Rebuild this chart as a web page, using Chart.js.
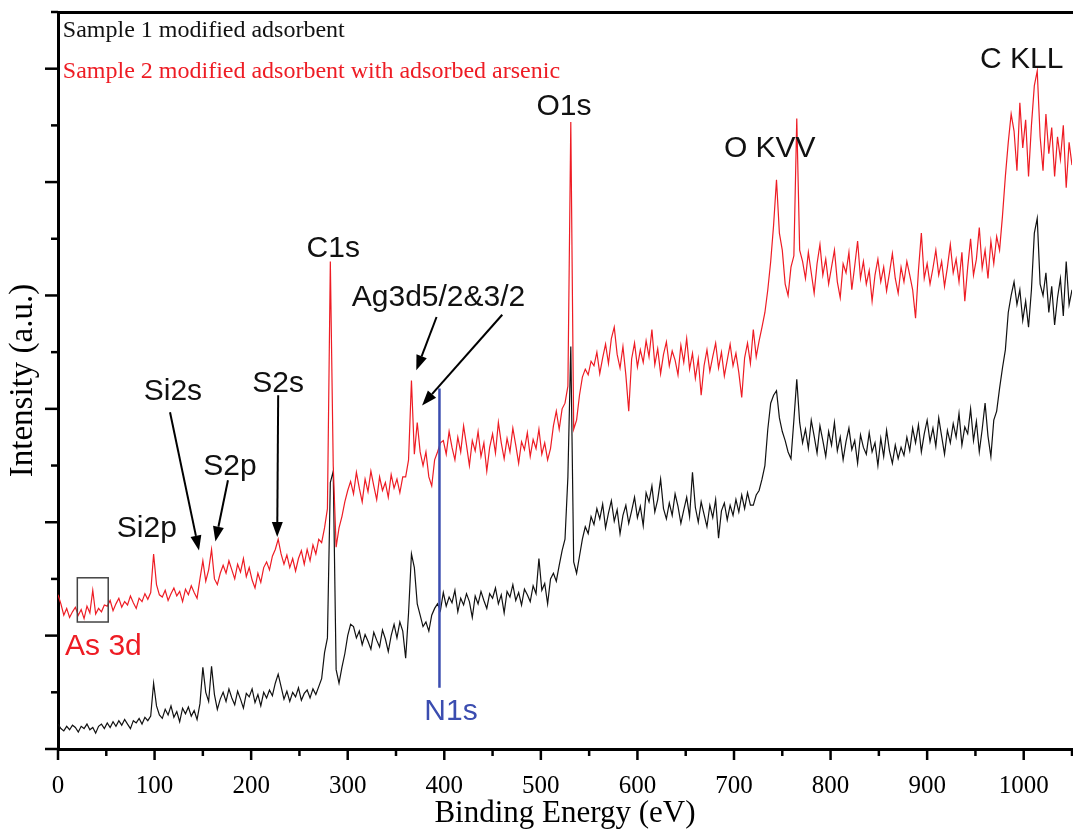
<!DOCTYPE html>
<html><head><meta charset="utf-8">
<script src="https://cdn.jsdelivr.net/npm/chart.js@4.4.1/dist/chart.umd.min.js"></script>
<style>html,body{margin:0;padding:0;background:#fff}canvas{display:block}</style>
</head><body>
<canvas id="c" width="1073" height="832"></canvas>
<script>
// Binding energy grid (eV)
const energies = [
0,3,6,9,12,15,18,21,24,27,
30,33,36,39,42,45,48,51,54,57,
60,63,66,69,72,75,78,81,84,87,
90,93,96,99,102,105,108,111,114,117,
120,123,126,129,132,135,138,141,144,147,
150,153,156,159,162,165,168,171,174,177,
180,183,186,189,192,195,198,201,204,207,
210,213,216,219,222,225,228,231,234,237,
240,243,246,249,252,255,258,261,264,267,
270,273,276,279,282,285,288,291,294,297,
300,303,306,309,312,315,318,321,324,327,
330,333,336,339,342,345,348,351,354,357,
360,363,366,369,372,375,378,381,384,387,
390,393,396,399,402,405,408,411,414,417,
420,423,426,429,432,435,438,441,444,447,
450,453,456,459,462,465,468,471,474,477,
480,483,486,489,492,495,498,501,504,507,
510,513,516,519,522,525,528,531,534,537,
540,543,546,549,552,555,558,561,564,567,
570,573,576,579,582,585,588,591,594,597,
600,603,606,609,612,615,618,621,624,627,
630,633,636,639,642,645,648,651,654,657,
660,663,666,669,672,675,678,681,684,687,
690,693,696,699,702,705,708,711,714,717,
720,723,726,729,732,735,738,741,744,747,
750,753,756,759,762,765,768,771,774,777,
780,783,786,789,792,795,798,801,804,807,
810,813,816,819,822,825,828,831,834,837,
840,843,846,849,852,855,858,861,864,867,
870,873,876,879,882,885,888,891,894,897,
900,903,906,909,912,915,918,921,924,927,
930,933,936,939,942,945,948,951,954,957,
960,963,966,969,972,975,978,981,984,987,
990,993,996,999,1002,1005,1008,1011,1014,1017,
1020,1023,1026,1029,1032,1035,1038,1041,1044,1047,
1050];

// Sample 1 modified adsorbent (a.u.)
const sample1 = [
22,18,16,20,17,21,19,15,20,18,
22,17,19,14,20,22,18,23,19,24,
20,25,21,26,22,18,25,23,27,22,
28,25,29,58,38,30,27,35,30,38,
28,33,24,36,31,37,29,34,26,40,
72,50,42,73,48,35,44,50,42,53,
45,39,51,44,36,49,46,53,41,48,
38,50,45,52,47,58,66,55,44,51,
42,50,46,54,43,49,52,45,53,48,
55,62,85,98,235,245,70,58,72,84,
100,110,108,98,104,92,101,95,88,103,
96,90,105,97,86,100,110,98,112,104,
80,120,172,160,128,118,108,112,104,118,
124,128,122,138,126,134,129,140,121,133,
127,137,130,116,135,128,139,131,124,137,
133,142,128,136,120,139,134,145,131,138,
127,141,136,130,144,137,168,140,146,128,
150,155,148,162,175,185,240,355,165,155,
170,185,196,190,205,198,212,203,216,195,
208,219,201,211,190,206,215,199,210,222,
204,214,197,226,218,232,209,220,238,212,
203,217,206,225,214,199,211,222,205,244,
213,200,218,207,196,215,204,220,186,210,
217,202,215,206,220,209,224,212,226,215,
215,224,228,238,250,282,305,312,316,292,
280,272,262,256,290,326,288,270,282,265,
290,276,261,285,272,258,280,268,288,263,
275,255,271,283,264,272,252,277,266,260,
279,262,270,250,274,258,281,263,252,268,
256,266,259,275,263,283,270,286,262,278,
290,271,283,267,292,276,260,281,270,287,
275,296,268,284,278,300,272,289,262,282,
305,276,258,290,298,318,336,352,385,400,
412,392,405,378,395,372,405,455,468,410,
400,420,385,408,374,398,415,382,430,392,
405];

// Sample 2 modified adsorbent with adsorbed arsenic (a.u.)
const sample2 = [
136,128,118,124,116,121,125,118,123,115,
126,120,140,119,124,121,127,126,131,122,
128,133,125,130,127,135,129,124,133,130,
137,132,138,172,145,136,134,140,131,137,
142,135,139,130,141,136,144,138,133,150,
166,148,158,176,150,145,155,162,155,166,
158,150,163,156,168,152,160,149,142,155,
147,160,165,158,170,176,185,172,163,171,
160,168,157,168,175,163,176,166,180,172,
185,182,195,212,430,250,178,195,205,218,
228,236,225,244,230,218,238,227,245,232,
220,240,228,235,222,242,230,238,226,240,
240,255,325,260,288,262,250,262,240,232,
255,262,270,272,260,280,266,255,275,262,
285,268,250,272,263,280,258,270,245,266,
278,261,288,270,256,274,262,283,268,252,
271,264,279,258,273,265,282,260,270,255,
265,285,298,282,300,305,320,553,282,290,
312,328,335,330,342,338,350,331,345,357,
340,362,372,348,336,355,330,298,344,358,
337,352,341,360,346,370,339,353,331,348,
359,338,351,343,330,356,341,362,335,349,
327,344,312,338,352,333,346,358,336,350,
329,343,357,338,349,332,310,345,358,340,
370,346,360,372,385,405,430,462,502,455,
440,410,400,425,435,556,440,430,415,438,
420,402,428,445,418,432,410,425,440,412,
398,428,420,438,405,426,448,415,430,410,
422,395,418,432,412,425,404,420,437,415,
402,425,412,430,418,405,380,422,455,415,
428,410,424,440,418,430,408,425,445,420,
432,412,438,395,425,450,418,432,460,424,
440,415,448,428,452,440,470,505,535,560,
545,510,570,530,555,505,550,585,598,540,
510,560,525,548,505,540,520,550,495,535,
515];

const xTickLabels = [0,100,200,300,400,500,600,700,800,900,1000];
const seriesNames = ['Sample 1 modified adsorbent', 'Sample 2 modified adsorbent with adsorbed arsenic'];
const seriesColors = ['#111111', '#ee1c24'];

// Peak annotations: text, energy (eV), intensity (a.u.) of text baseline
const peakLabels = [
  {t:'Si2p', e:92, v:187, c:'#111'},
  {t:'Si2s', e:119, v:308, c:'#111'},
  {t:'S2p', e:178, v:242, c:'#111'},
  {t:'S2s', e:228, v:315, c:'#111'},
  {t:'C1s', e:285, v:434, c:'#111'},
  {t:'Ag3d5/2&3/2', e:394, v:391, c:'#111'},
  {t:'O1s', e:524, v:559, c:'#111'},
  {t:'O KVV', e:737, v:522, c:'#111'},
  {t:'C KLL', e:998, v:601, c:'#111'},
  {t:'As 3d', e:47, v:83, c:'#ee1c24'},
  {t:'N1s', e:407, v:26, c:'#3b4db0'}
];
// Arrows: from (e1,v1) to tip (e2,v2)
const arrows = [
  [116, 297, 146, 175],
  [176, 237, 163, 183],
  [228, 312, 227, 187],
  [392, 381, 371, 334],
  [460, 383, 377, 303]
];
const n1sLine = [395, 318, 54];
const as3dBox = [20, 151, 52, 112];

const decor = {
  id: 'decor',
  afterDraw(chart) {
    const {ctx, chartArea: ca} = chart;
    const x = chart.scales.x, y = chart.scales.y;
    const X = e => x.getPixelForValue(e), Y = v => y.getPixelForValue(v);
    ctx.save();
    ctx.strokeStyle = '#000'; ctx.lineWidth = 2.5; ctx.lineCap = 'butt';
    x.ticks.forEach(t => {
      const px = X(t.value), len = (t.value % 100 === 0) ? 11 : 7;
      ctx.beginPath(); ctx.moveTo(px, ca.bottom); ctx.lineTo(px, ca.bottom + len); ctx.stroke();
    });
    y.ticks.forEach(t => {
      const py = Y(t.value), len = (t.value % 100 === 0) ? 13 : 7;
      ctx.beginPath(); ctx.moveTo(ca.left - len, py); ctx.lineTo(ca.left, py); ctx.stroke();
    });
    // N1s line
    ctx.strokeStyle = '#3b4db0'; ctx.lineWidth = 2.5;
    ctx.beginPath(); ctx.moveTo(X(n1sLine[0]), Y(n1sLine[1])); ctx.lineTo(X(n1sLine[0]), Y(n1sLine[2])); ctx.stroke();
    // As 3d box
    ctx.strokeStyle = '#444'; ctx.lineWidth = 1.5;
    ctx.strokeRect(X(as3dBox[0]), Y(as3dBox[1]), X(as3dBox[2]) - X(as3dBox[0]), Y(as3dBox[3]) - Y(as3dBox[1]));
    // arrows
    ctx.strokeStyle = '#000'; ctx.fillStyle = '#000'; ctx.lineWidth = 2;
    arrows.forEach(a => {
      const x1 = X(a[0]), y1 = Y(a[1]), x2 = X(a[2]), y2 = Y(a[3]);
      const ang = Math.atan2(y2 - y1, x2 - x1), L = 15, W = 5.5;
      const bx = x2 - L * Math.cos(ang), by = y2 - L * Math.sin(ang);
      ctx.beginPath(); ctx.moveTo(x1, y1); ctx.lineTo(bx, by); ctx.stroke();
      ctx.beginPath(); ctx.moveTo(x2, y2);
      ctx.lineTo(bx + W * Math.sin(ang), by - W * Math.cos(ang));
      ctx.lineTo(bx - W * Math.sin(ang), by + W * Math.cos(ang));
      ctx.closePath(); ctx.fill();
    });
    // peak labels
    ctx.font = '30px "Liberation Sans", Arial, sans-serif';
    ctx.textAlign = 'center'; ctx.textBaseline = 'alphabetic';
    peakLabels.forEach(p => { ctx.fillStyle = p.c; ctx.fillText(p.t, X(p.e), Y(p.v)); });
    // series names
    ctx.font = '24px "Liberation Serif", "Times New Roman", serif';
    ctx.textAlign = 'left';
    ctx.fillStyle = seriesColors[0]; ctx.fillText(seriesNames[0], X(5), Y(628));
    ctx.fillStyle = seriesColors[1]; ctx.fillText(seriesNames[1], X(5), Y(592));
    ctx.restore();
  }
};

Chart.defaults.font.family = '"Liberation Serif", "Times New Roman", serif';
Chart.defaults.color = '#000';

new Chart(document.getElementById('c'), {
  type: 'line',
  data: {
    labels: energies,
    datasets: [
      {label: seriesNames[1], data: energies.map((e, i) => ({x: e, y: sample2[i]})), borderColor: seriesColors[1], borderWidth: 1.2, pointRadius: 0, tension: 0},
      {label: seriesNames[0], data: energies.map((e, i) => ({x: e, y: sample1[i]})), borderColor: seriesColors[0], borderWidth: 1.2, pointRadius: 0, tension: 0}
    ]
  },
  options: {
    responsive: false,
    animation: false,
    devicePixelRatio: 1,
    layout: {padding: {left: 0, right: 1, top: 0, bottom: 0}},
    plugins: {legend: {display: false}, tooltip: {enabled: false}},
    scales: {
      x: {
        type: 'linear', position: 'bottom', min: 0, max: 1050,
        grid: {display: false, drawTicks: false},
        border: {display: true, color: '#000', width: 3},
        ticks: {stepSize: 50, autoSkip: false, maxRotation: 0, padding: 22,
          font: {size: 25}, color: '#000',
          callback: v => xTickLabels.includes(v) ? String(v) : ''},
        title: {display: true, text: 'Binding Energy (eV)', font: {size: 31}, color: '#000', padding: {top: 0, bottom: 0}},
        afterFit: s => { s.height = 83; s.paddingLeft = 0; s.paddingRight = 0; }
      },
      x2: {
        type: 'linear', position: 'top', display: true, min: 0, max: 1050,
        grid: {display: false, drawTicks: false},
        border: {display: true, color: '#000', width: 3},
        ticks: {display: false},
        afterFit: s => { s.height = 12; s.paddingLeft = 0; s.paddingRight = 0; }
      },
      y: {
        type: 'linear', min: 0, max: 650,
        grid: {display: false, drawTicks: false},
        border: {display: true, color: '#000', width: 3},
        ticks: {display: false, stepSize: 50},
        title: {display: true, text: 'Intensity (a.u.)', font: {size: 33}, color: '#000', padding: {top: 4, bottom: 0}},
        afterFit: s => { s.width = 58; s.paddingTop = 0; s.paddingBottom = 0; }
      }
    }
  },
  plugins: [decor]
});
</script>
</body></html>
